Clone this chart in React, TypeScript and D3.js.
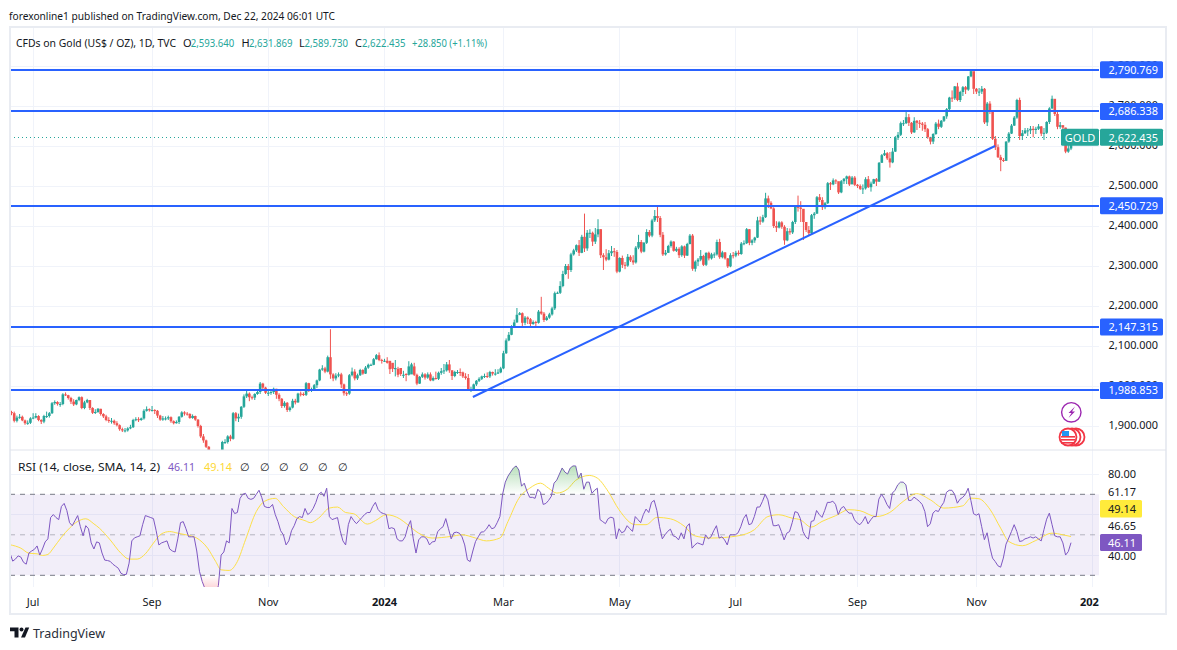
import { useRef, useEffect } from "react";
import * as d3 from "d3";

const opens = [
  1935,1932,1913,1921,1923,1914,1907,1908,1919,1921,
  1925,1915,1911,1925,1925,1932,1957,1960,1955,1955,
  1979,1977,1970,1961,1954,1965,1972,1945,1959,1965,
  1945,1933,1935,1943,1930,1924,1915,1913,1913,1907,
  1902,1892,1889,1889,1894,1897,1915,1917,1915,1919,
  1938,1942,1940,1940,1938,1926,1916,1919,1919,1922,
  1912,1907,1910,1923,1934,1931,1930,1920,1925,1916,
  1900,1874,1864,1848,1828,1824,1821,1820,1832,1860,
  1860,1874,1868,1932,1919,1923,1948,1974,1981,1972,
  1971,1980,1985,2006,1996,1983,1983,1985,1993,1978,
  1968,1950,1958,1940,1946,1963,1959,1981,1980,1978,
  2007,1990,1992,2002,2014,2041,2044,2036,2072,2029,
  2019,2026,2029,2004,1982,1981,2027,2036,2019,2027,
  2040,2031,2046,2053,2053,2067,2077,2065,2063,2063,
  2063,2058,2042,2043,2045,2028,2030,2028,2029,2049,
  2028,2006,2023,2029,2021,2029,2014,2020,2018,2033,
  2037,2039,2054,2039,2025,2035,2035,2034,2024,2020,
  1992,1992,2004,2013,2018,2024,2025,2024,2035,2031,
  2031,2034,2044,2082,2114,2128,2148,2159,2178,2182,
  2158,2171,2167,2155,2160,2158,2186,2181,2165,2171,
  2179,2194,2232,2233,2250,2280,2300,2290,2329,2339,
  2352,2333,2373,2344,2383,2383,2361,2379,2392,2327,
  2322,2316,2332,2337,2335,2286,2320,2303,2301,2323,
  2314,2309,2346,2360,2336,2358,2385,2376,2414,2425,
  2420,2378,2329,2333,2350,2361,2338,2343,2327,2349,
  2326,2355,2376,2293,2311,2316,2325,2303,2333,2319,
  2329,2329,2360,2322,2334,2319,2299,2327,2326,2333,
  2330,2356,2357,2392,2358,2364,2371,2414,2411,2422,
  2469,2458,2444,2400,2396,2409,2398,2364,2387,2384,
  2410,2448,2446,2443,2410,2390,2382,2427,2431,2472,
  2465,2447,2457,2507,2504,2514,2512,2484,2512,2518,
  2524,2504,2521,2503,2500,2493,2494,2517,2497,2506,
  2517,2511,2558,2577,2582,2569,2559,2586,2621,2628,
  2657,2657,2672,2658,2634,2663,2658,2656,2653,2642,
  2622,2611,2630,2656,2648,2663,2674,2692,2721,2719,
  2749,2715,2735,2747,2741,2774,2787,2743,2736,2736,
  2743,2659,2706,2685,2618,2597,2572,2565,2563,2611,
  2631,2651,2671,2715,2625,2632,2639,2639,2643,2640,
  2643,2649,2631,2633,2660,2694,2718,2680,2648,2652,
  2646,2586,2593.64,
];

const closes = [
  1932,1913,1921,1923,1914,1907,1908,1919,1921,1925,
  1915,1911,1925,1925,1932,1957,1960,1955,1955,1979,
  1977,1970,1961,1954,1965,1972,1945,1959,1965,1945,
  1933,1935,1943,1930,1924,1915,1913,1913,1907,1902,
  1892,1889,1889,1894,1897,1915,1917,1915,1919,1938,
  1942,1940,1940,1938,1926,1916,1919,1919,1922,1912,
  1907,1910,1923,1934,1931,1930,1920,1925,1916,1900,
  1874,1864,1848,1828,1824,1821,1820,1832,1860,1860,
  1874,1868,1932,1919,1923,1948,1974,1981,1972,1971,
  1980,1985,2006,1996,1983,1983,1985,1993,1978,1968,
  1950,1958,1940,1946,1963,1959,1981,1980,1978,2007,
  1990,1992,2002,2014,2041,2044,2036,2072,2029,2019,
  2026,2029,2004,1982,1981,2027,2036,2019,2027,2040,
  2031,2046,2053,2053,2067,2077,2065,2063,2063,2058,
  2042,2043,2045,2028,2030,2028,2029,2049,2054,2028,
  2006,2023,2029,2021,2029,2014,2020,2018,2033,2037,
  2039,2054,2039,2025,2035,2035,2034,2024,2020,1992,
  1992,2004,2013,2018,2024,2025,2024,2035,2031,2031,
  2034,2044,2082,2114,2128,2148,2159,2178,2182,2158,
  2171,2167,2155,2160,2158,2186,2181,2165,2171,2179,
  2194,2232,2233,2250,2280,2300,2290,2329,2339,2352,
  2333,2373,2344,2383,2383,2361,2379,2392,2327,2322,
  2316,2332,2337,2335,2286,2320,2303,2301,2323,2314,
  2309,2346,2360,2336,2358,2385,2376,2414,2425,2420,
  2378,2329,2333,2350,2361,2338,2343,2327,2349,2326,
  2355,2376,2293,2311,2316,2325,2303,2333,2319,2329,
  2329,2360,2322,2334,2319,2299,2327,2326,2333,2330,
  2356,2357,2392,2358,2364,2371,2414,2411,2422,2469,
  2458,2444,2400,2396,2409,2398,2364,2387,2384,2410,
  2448,2446,2443,2410,2390,2382,2427,2431,2472,2465,
  2447,2457,2507,2504,2514,2512,2484,2512,2518,2524,
  2504,2521,2503,2500,2493,2494,2517,2497,2506,2517,
  2511,2558,2577,2582,2569,2559,2586,2621,2628,2657,
  2657,2672,2658,2634,2663,2658,2656,2653,2642,2622,
  2611,2630,2656,2648,2663,2674,2692,2721,2719,2749,
  2715,2735,2747,2741,2774,2787,2743,2736,2736,2743,
  2659,2706,2685,2618,2597,2572,2565,2563,2611,2631,
  2651,2671,2715,2625,2632,2639,2639,2643,2640,2643,
  2649,2631,2633,2660,2694,2718,2680,2648,2652,2646,
  2586,2594,2622.435,
];

const highs = [
  1938,1936,1926,1930,1926,1916,1914,1922,1932,1932,
  1927,1917,1928,1936,1935,1960,1964,1962,1960,1982,
  1984,1978,1973,1967,1966,1974,1974,1963,1968,1965,
  1947,1942,1945,1943,1932,1928,1922,1920,1916,1912,
  1904,1896,1895,1897,1903,1918,1922,1922,1921,1942,
  1949,1944,1950,1942,1940,1928,1925,1924,1926,1924,
  1914,1914,1925,1937,1937,1935,1932,1929,1926,1917,
  1903,1880,1866,1850,1830,1829,1824,1835,1863,1867,
  1877,1878,1935,1935,1931,1950,1979,1989,1984,1976,
  1982,1990,2010,2008,1998,1990,1989,1996,1993,1982,
  1970,1962,1960,1949,1968,1968,1983,1986,1984,2010,
  2008,1996,2005,2016,2043,2052,2048,2076,2142,2032,
  2032,2034,2033,2006,1986,2030,2046,2042,2031,2043,
  2042,2050,2056,2056,2070,2080,2084,2068,2068,2072,
  2060,2050,2065,2048,2037,2038,2032,2062,2058,2058,
  2031,2025,2034,2032,2034,2034,2024,2036,2036,2045,
  2055,2060,2065,2040,2038,2040,2044,2036,2032,2030,
  1998,2006,2015,2022,2026,2031,2034,2038,2036,2042,
  2042,2048,2088,2119,2135,2152,2166,2195,2185,2184,
  2175,2174,2170,2164,2163,2190,2223,2185,2175,2183,
  2198,2236,2236,2262,2288,2305,2305,2333,2343,2354,
  2365,2378,2431,2390,2392,2386,2395,2417,2392,2332,
  2342,2340,2350,2345,2340,2322,2326,2310,2330,2327,
  2327,2350,2378,2365,2360,2392,2390,2418,2440,2450,
  2425,2385,2340,2353,2364,2362,2348,2347,2352,2351,
  2358,2380,2380,2314,2320,2340,2328,2334,2336,2333,
  2334,2366,2368,2338,2335,2320,2332,2335,2338,2339,
  2360,2364,2395,2392,2367,2373,2423,2424,2428,2483,
  2476,2462,2447,2412,2412,2412,2402,2395,2394,2413,
  2451,2476,2462,2442,2395,2400,2430,2435,2475,2480,
  2472,2460,2510,2510,2519,2517,2510,2515,2520,2526,
  2526,2525,2525,2505,2504,2504,2522,2525,2511,2518,
  2520,2560,2580,2590,2585,2585,2595,2625,2635,2661,
  2665,2685,2680,2660,2672,2665,2665,2660,2660,2645,
  2623,2632,2660,2666,2665,2675,2695,2723,2739,2750,
  2758,2738,2750,2750,2775,2790,2785,2745,2745,2750,
  2745,2710,2712,2685,2625,2604,2578,2570,2612,2635,
  2655,2675,2718,2721,2640,2645,2645,2650,2650,2648,
  2655,2650,2645,2662,2697,2726,2716,2685,2660,2652,
  2646,2615,2631.869,
];

const lows = [
  1927,1909,1909,1918,1912,1903,1903,1905,1917,1919,
  1912,1905,1907,1920,1921,1930,1953,1951,1948,1952,
  1975,1966,1955,1950,1952,1962,1942,1942,1957,1940,
  1930,1930,1933,1926,1920,1912,1908,1906,1903,1899,
  1888,1885,1884,1886,1892,1895,1912,1910,1913,1916,
  1936,1936,1936,1930,1920,1913,1913,1914,1915,1908,
  1904,1906,1905,1921,1926,1926,1918,1918,1913,1896,
  1870,1858,1845,1825,1815,1815,1813,1812,1828,1855,
  1856,1862,1866,1912,1910,1918,1945,1970,1962,1966,
  1965,1978,1980,1990,1980,1975,1978,1980,1968,1962,
  1945,1946,1935,1936,1944,1954,1958,1974,1975,1975,
  1985,1985,1990,1995,2012,2038,2032,2034,2018,2012,
  2014,2022,1995,1976,1975,1978,2024,2014,2015,2025,
  2028,2030,2043,2050,2052,2066,2062,2056,2060,2056,
  2030,2035,2024,2022,2025,2020,2012,2026,2046,2025,
  2002,2005,2020,2016,2018,2012,2012,2016,2015,2028,
  2030,2036,2033,2015,2022,2030,2025,2020,2016,1988,
  1985,1990,2000,2010,2015,2020,2020,2020,2026,2026,
  2030,2032,2042,2080,2112,2127,2146,2158,2177,2150,
  2152,2155,2148,2153,2147,2156,2178,2160,2163,2168,
  2176,2190,2230,2230,2247,2278,2268,2285,2326,2335,
  2325,2332,2335,2338,2370,2350,2355,2372,2320,2290,
  2312,2314,2325,2323,2282,2284,2295,2292,2298,2310,
  2303,2306,2342,2332,2334,2355,2372,2372,2410,2410,
  2372,2325,2326,2333,2346,2336,2335,2320,2323,2320,
  2325,2354,2288,2286,2300,2312,2300,2300,2314,2316,
  2320,2326,2318,2319,2316,2295,2297,2319,2322,2326,
  2328,2352,2355,2352,2352,2358,2370,2403,2408,2420,
  2445,2442,2395,2385,2394,2393,2353,2362,2378,2380,
  2405,2436,2410,2365,2385,2375,2380,2418,2430,2460,
  2440,2442,2455,2490,2502,2505,2480,2482,2505,2505,
  2500,2505,2500,2495,2490,2480,2491,2495,2486,2505,
  2500,2510,2558,2575,2565,2546,2557,2585,2615,2625,
  2650,2655,2650,2630,2633,2640,2645,2638,2635,2618,
  2604,2605,2628,2642,2645,2660,2668,2690,2710,2715,
  2712,2710,2725,2730,2738,2772,2730,2730,2725,2730,
  2655,2650,2680,2615,2590,2570,2537,2560,2563,2608,
  2630,2650,2668,2615,2615,2630,2625,2630,2622,2630,
  2640,2625,2615,2630,2655,2692,2675,2642,2643,2640,
  2582,2583,2589.73,
];

const rsiValues = [
  41,37,38,39.6,39,36.4,35.5,41,42,42.8,
  44.5,40,43,46.5,48,58.5,60,58.5,57.5,64,
  65.5,62,56,54.5,57,59.5,54,49.5,54.5,53,
  46,43,46.5,46,41,37.5,37.3,36.9,35.5,34.5,
  33.5,31,30.3,30.5,36,47,48.5,49,49.5,55,
  59.5,59,58.5,58,52,45,46,46.5,47,43,
  42,41.5,48,56,56.5,53,49,49,49,42,
  32,27,23.5,20,18,18,20,25,40,41.5,
  47,46,63,60.5,61,68,70,70.5,68,67.5,
  68,70,72,68.5,64,63.5,63.5,65,60,56.5,
  52,50,45,47,52,54.5,58,59,58.5,63,
  60,61,63,66,70,71,69,73,59,57.5,
  58,58.5,52,47,45,55,59,57,55.5,57,
  58.5,60,61,61,64,66,62.5,61,60.5,60,
  53,53.5,53,48,47,47,49,54,57,48,
  41,47.5,49,49,48,45,46.5,46.7,51.5,53,
  54,58,53,48,51,51.3,50.8,49,45,37.6,
  36.8,42,46.7,49,51.3,51.5,52.8,55,53,53.5,
  56,59,70,76,79,81,83,84,82,74,
  75.5,71.5,68.5,68.5,68,72.5,71,65,65.5,67,
  69,75.5,77,80,83,81,80,83,84,84,
  78,80.5,72.5,76,76,70.5,72,73,57.5,56.5,
  55.5,58,58.7,58.2,48,53,51,51.7,54.5,53,
  51.7,59,57.5,56,60,62.7,61,66,67,62,
  54,48,50,51.7,52.8,49.5,49,47.5,51,48,
  54,55.5,43.4,45,46,45.5,45,50,48,49,
  52,54.5,48.4,49,47.5,45,50,50,50,51,
  54,58,60,55,55.5,59,63.7,63.7,66.5,70,
  67.3,60.7,54.5,54.5,55,51.6,47.5,50.8,51.6,56,
  61.4,61,58,51.6,49,47.9,56.6,57,62,60,
  58.6,62,66,66,66.6,65,60,63,64,62,
  60.7,60.7,57.4,55.8,55,56.6,59,55.4,57.4,59,
  59,67.6,70,68,65,63,70.6,72,74.7,76,
  76,74.7,67,67,68.6,67.6,66.5,65,61.5,54,
  55.4,60.7,62,61.5,64,66,71,72,72,70,
  65.6,67.6,68.5,70,73,67,60.4,59.7,60.4,54,
  47.6,51,44,38.5,36.8,34.7,34,38.5,45.4,48.4,
  51.6,55,51.6,46.7,47,48,48.4,49,48.4,49,
  47.9,47,52.5,57.7,60.7,55,49.5,49,49,46,
  40,41.7,46.11,
];

const smaBars = [
  0,4,7,10,12,14,16,19,22,25,28,31,33,37,41,44,47,50,53,56,59,62,65,69,73,76,78,81,84,87,91,94,98,
  101,105,109,111,114,118,121,124,127,132,135,139,144,147,151,156,163,167,172,176,181,184,188,192,196,199,
  202,206,209,214,217,221,225,231,235,239,244,249,253,259,269,275,280,284,289,292,296,300,305,310,314,320,
  325,330,335,340,345,352,355,358,362,366,369,374,379,385,389,392,
];
const smaValues = [
  45.1,43.4,40.9,40.6,39.8,40.3,43.4,48.8,53.3,56.6,57.9,55.4,53.3,47.5,40.9,38,38,40.6,45.9,50.5,51.6,50.8,50,48.4,43.4,36.8,32.7,32.4,36.8,47.5,61.5,66.5,68,
  64,59,57,56,58.2,63.2,63.7,61,60.4,55.3,57,59.9,57.9,54.9,50.8,48.4,49.2,50,48.4,47,48.4,56.6,68,73,75.5,73,
  70.6,72.6,76.9,79.3,78,71.4,62.4,55,55,58.6,57.9,54.4,49.5,48.4,49.5,52.5,59,59.9,58.2,57.4,53.8,56.6,59.4,62.4,61.9,59,
  61,66.5,70.3,67.3,63.2,64.3,68.1,67.8,62.7,53.3,46.7,44.6,47.2,50.8,50,49.14,
];

const priceTicks = [1900, 2000, 2100, 2200, 2300, 2400, 2500, 2600, 2700, 2800];
const levels = [2790.769, 2686.338, 2450.729, 2147.315, 1988.853];
const trendBars = [170.7, 363.9];
const trendPrices = [1972.5, 2600];
const monthBars = [8, 52, 95, 138, 182, 225, 268, 313, 357, 400];
const monthLabels = ["Jul", "Sep", "Nov", "2024", "Mar", "May", "Jul", "Sep", "Nov", "2025"];
const rsiGrid = [80, 60, 40];
const rsiLabels = ["80.00", "61.17", "46.65", "40.00"];

const lastRsi = "46.11";
const lastSma = "49.14";
const lastPrice = 2622.435;

const FONT = "'Noto Sans', sans-serif";
const UP = "#26a69a";
const DOWN = "#ef5350";
const BLUE = "#2962ff";
const GRID = "#f0f3fa";
const INK = "#131722";
const PRICE_W = 49.5;

export default function App() {
  const ref = useRef<SVGSVGElement | null>(null);

  useEffect(() => {
    if (!ref.current) return;
    const svg = d3.select(ref.current);
    svg.selectAll("*").remove();

    const plotL = 10;
    const plotR = 1099;
    const top = 27;
    const split = 450;
    const bottom = 587;

    const x = d3.scaleLinear().domain([0, 392]).range([11.5, 1071]);
    const xr = d3.scaleLinear().domain([0, 392]).range([10, 1071]); // rsi trace sits a touch left
    const y = d3.scaleLinear().domain([1900, 2500]).range([426, 186]);
    const r = d3.scaleLinear().domain([30, 70]).range([575.3, 494.3]);
    const fmt = d3.format(",.3f");

    const defs = svg.append("defs");
    const addClip = (id: string, x0: number, y0: number, w: number, h: number) =>
      defs.append("clipPath").attr("id", id).append("rect").attr("x", x0).attr("y", y0).attr("width", w).attr("height", h);
    addClip("pricePane", plotL, top, plotR - plotL, split - top);
    addClip("rsiPane", plotL, split, plotR - plotL, bottom - split);
    addClip("rsiTop", plotL, split, plotR - plotL, r(70) - split);
    addClip("rsiBottom", plotL, r(30), plotR - plotL, bottom - r(30));
    addClip("timePane", plotL, bottom, plotR - plotL, 27);

    const green = defs.append("linearGradient").attr("id", "greenFade").attr("gradientUnits", "userSpaceOnUse")
      .attr("x1", 0).attr("x2", 0).attr("y1", r(85)).attr("y2", r(70));
    green.append("stop").attr("offset", 0).attr("stop-color", "#4caf50").attr("stop-opacity", 0.42);
    green.append("stop").attr("offset", 1).attr("stop-color", "#4caf50").attr("stop-opacity", 0);
    const red = defs.append("linearGradient").attr("id", "redFade").attr("gradientUnits", "userSpaceOnUse")
      .attr("x1", 0).attr("x2", 0).attr("y1", r(30)).attr("y2", r(24));
    red.append("stop").attr("offset", 0).attr("stop-color", "#f23645").attr("stop-opacity", 0);
    red.append("stop").attr("offset", 1).attr("stop-color", "#f23645").attr("stop-opacity", 0.2);

    const text = (str: string, tx: number, ty: number, fill = INK, size = 11, anchor = "start", len = 0) => {
      const t = svg.append("text").attr("x", tx).attr("y", ty).attr("fill", fill).attr("font-size", size)
        .attr("font-family", FONT).attr("text-anchor", anchor)
        .attr("dominant-baseline", "central").text(str);
      if (len) t.attr("textLength", len).attr("lengthAdjust", "spacingAndGlyphs");
      return t;
    };

    svg.append("rect").attr("width", 1177).attr("height", 650).attr("fill", "#fff");

    // grid
    const grid = svg.append("g").attr("stroke", GRID).attr("stroke-width", 1).attr("shape-rendering", "crispEdges");
    monthBars.forEach((b) => {
      grid.append("line").attr("x1", x(b)).attr("x2", x(b)).attr("y1", top).attr("y2", bottom);
    });
    priceTicks.forEach((p) => {
      grid.append("line").attr("x1", plotL).attr("x2", plotR).attr("y1", y(p)).attr("y2", y(p));
    });
    rsiGrid.forEach((v) => {
      grid.append("line").attr("x1", plotL).attr("x2", plotR).attr("y1", r(v)).attr("y2", r(v));
    });

    // candles
    const candles = svg.append("g").attr("clip-path", "url(#pricePane)");
    closes.forEach((c, i) => {
      const o = opens[i];
      const color = c >= o ? UP : DOWN;
      candles.append("rect").attr("x", x(i) - 0.5).attr("width", 1).attr("y", y(highs[i]))
        .attr("height", y(lows[i]) - y(highs[i])).attr("fill", color);
      candles.append("rect").attr("x", x(i) - 1.3).attr("width", 2.6).attr("y", y(Math.max(o, c)))
        .attr("height", Math.max(1, Math.abs(y(o) - y(c)))).attr("fill", color);
    });

    // last price line
    const lastY = Math.floor(y(lastPrice)) + 0.5;
    svg.append("line").attr("x1", plotL).attr("x2", 1061).attr("y1", lastY).attr("y2", lastY)
      .attr("stroke", UP).attr("stroke-width", 1).attr("stroke-dasharray", "1 3");

    // drawn levels and trend line
    const drawn = svg.append("g").attr("stroke", BLUE).attr("stroke-width", 2);
    levels.forEach((p) => {
      const ly = Math.round(y(p));
      drawn.append("line").attr("x1", plotL).attr("x2", plotR).attr("y1", ly).attr("y2", ly);
    });
    drawn.append("line").attr("x1", x(trendBars[0])).attr("x2", x(trendBars[1]))
      .attr("y1", y(trendPrices[0])).attr("y2", y(trendPrices[1]));

    // rsi pane
    const rsiG = svg.append("g").attr("clip-path", "url(#rsiPane)");
    rsiG.append("rect").attr("x", plotL).attr("width", plotR - plotL).attr("y", r(70)).attr("height", r(30) - r(70))
      .attr("fill", "#7e57c2").attr("fill-opacity", 0.1);
    [70, 50, 30].forEach((v) => {
      rsiG.append("line").attr("x1", plotL).attr("x2", plotR).attr("y1", r(v)).attr("y2", r(v))
        .attr("stroke", "#787b86").attr("stroke-opacity", v === 50 ? 0.5 : 1).attr("stroke-dasharray", "5 5");
    });
    const areaTop = d3.area<number>().x((_, i) => xr(i)).y0(r(70)).y1((d) => r(d));
    svg.append("g").attr("clip-path", "url(#rsiTop)").append("path").attr("d", areaTop(rsiValues) || "").attr("fill", "url(#greenFade)");
    const areaBottom = d3.area<number>().x((_, i) => xr(i)).y0(r(30)).y1((d) => r(d));
    svg.append("g").attr("clip-path", "url(#rsiBottom)").append("g").attr("clip-path", "url(#rsiPane)")
      .append("path").attr("d", areaBottom(rsiValues) || "").attr("fill", "url(#redFade)");
    const rsiLine = d3.line<number>().x((_, i) => xr(i)).y((d) => r(d));
    const smaLine = d3.line<number>().x((_, i) => xr(smaBars[i])).y((d) => r(d)).curve(d3.curveMonotoneX);
    rsiG.append("path").attr("d", smaLine(smaValues) || "").attr("fill", "none").attr("stroke", "#fde047").attr("stroke-width", 1);
    rsiG.append("path").attr("d", rsiLine(rsiValues) || "").attr("fill", "none").attr("stroke", "#7e57c2").attr("stroke-width", 1);

    // frame
    svg.append("rect").attr("x", 10).attr("y", 27).attr("width", 1156).attr("height", 587)
      .attr("fill", "none").attr("stroke", "#e9ecf2").attr("stroke-width", 2);
    svg.append("line").attr("x1", 10).attr("x2", 1166).attr("y1", split).attr("y2", split)
      .attr("stroke", "#e0e3eb").attr("stroke-width", 1);

    // price axis
    priceTicks.forEach((p) => {
      text(fmt(p), 1158, y(p) - 2, INK, 11, "end", PRICE_W);
    });
    levels.forEach((p) => {
      svg.append("rect").attr("x", 1100).attr("y", y(p) - 8.5).attr("width", 63).attr("height", 17).attr("rx", 1.5).attr("fill", BLUE);
      text(fmt(p), 1158, y(p) - 0.5, "#fff", 11, "end", PRICE_W);
    });
    svg.append("rect").attr("x", 1061).attr("y", y(lastPrice) - 8.2).attr("width", 38).attr("height", 17).attr("rx", 1.5).attr("fill", UP);
    text("GOLD", 1080, y(lastPrice), "#fff", 11, "middle");
    svg.append("rect").attr("x", 1100).attr("y", y(lastPrice) - 8.2).attr("width", 63).attr("height", 17).attr("rx", 1.5).attr("fill", UP);
    text(fmt(lastPrice), 1158, y(lastPrice), "#fff", 11, "end", PRICE_W);

    // rsi axis
    const labelY = [473.5, 491.7, 525.7, 555];
    rsiLabels.forEach((l, i) => text(l, 1108, labelY[i], INK, 11));
    svg.append("rect").attr("x", 1100).attr("y", 500).attr("width", 42).attr("height", 17.5).attr("rx", 1.5).attr("fill", "#ffeb3b");
    text(lastSma, 1108, 508.8, INK, 11);
    svg.append("rect").attr("x", 1100).attr("y", 534).attr("width", 42).attr("height", 17).attr("rx", 1.5).attr("fill", "#7e57c2");
    text(lastRsi, 1108, 542.5, "#fff", 11);

    // time axis
    const timeG = svg.append("g").attr("clip-path", "url(#timePane)");
    monthLabels.forEach((l, i) => {
      const bold = /^\d/.test(l);
      timeG.append("text").attr("x", x(monthBars[i])).attr("y", 601).attr("fill", INK).attr("font-size", 11)
        .attr("font-family", FONT).attr("font-weight", bold ? 700 : 400).attr("text-anchor", "middle")
        .attr("dominant-baseline", "central").text(l);
    });

    // header and legends
    text("forexonline1 published on TradingView.com, Dec 22, 2024 06:01 UTC", 9, 15, INK, 11.5, "start", 326);
    text("CFDs on Gold (US$ / OZ), 1D, TVC", 16, 42, INK, 11, "start", 160);
    [["O", 183, "2,593.640", 190.7], ["H", 241.5, "2,631.869", 249], ["L", 299, "2,589.730", 304.5], ["C", 355, "2,622.435", 362]].forEach((d) => {
      text(d[0] as string, d[1] as number, 42, INK, 11);
      text(d[2] as string, d[3] as number, 42, UP, 11, "start", 43.5);
    });
    text("+28.850 (+1.11%)", 412, 42, UP, 11, "start", 75);

    text("RSI (14, close, SMA, 14, 2)", 18, 466, INK, 11, "start", 142);
    text(lastRsi, 168, 466, "#7e57c2", 11, "start", 27);
    text(lastSma, 204, 466, "#fdd835", 11, "start", 28);
    [245, 265, 284, 304, 323, 343].forEach((px) => text("∅", px, 466, INK, 11, "middle"));

    // tradingview mark
    const logo = svg.append("g").attr("fill", INK);
    logo.append("path").attr("d", "M10 627.5h8.5v10h-4v-6.2h-4.5z");
    logo.append("circle").attr("cx", 21.5).attr("cy", 629.5).attr("r", 2);
    logo.append("path").attr("d", "M25.5 627.5h3.7l-4.2 10h-4z");
    text("TradingView", 33, 632.5, "#2a2e39", 13, "start", 72);

    // event icons
    const bolt = svg.append("g");
    bolt.append("circle").attr("cx", 1071.3).attr("cy", 412.3).attr("r", 9.7).attr("fill", "#fff").attr("stroke", "#9c27b0").attr("stroke-width", 1.4);
    bolt.append("path").attr("d", "M1075 406.5l-6.5 6.5h3l-3 5 6.5-6.5h-3z").attr("fill", "#9c27b0");
    const flag = svg.append("g");
    [1076, 1072].forEach((cx) => {
      flag.append("circle").attr("cx", cx).attr("cy", 437).attr("r", 8.5).attr("fill", "#fff").attr("stroke", "#f23645").attr("stroke-width", 1.8);
    });
    flag.append("circle").attr("cx", 1068).attr("cy", 437).attr("r", 8.5).attr("fill", "#fff").attr("stroke", "#f23645").attr("stroke-width", 1.8);
    [436, 439, 442].forEach((fy) => {
      flag.append("rect").attr("x", 1061).attr("y", fy).attr("width", 14).attr("height", 1.6).attr("fill", "#f23645");
    });
    flag.append("rect").attr("x", 1062).attr("y", 431).attr("width", 7).attr("height", 5).attr("fill", "#2196f3");
  }, []);

  return <svg ref={ref} width={1177} height={650} style={{ position: "absolute", left: 0, top: 0 }} />;
}
